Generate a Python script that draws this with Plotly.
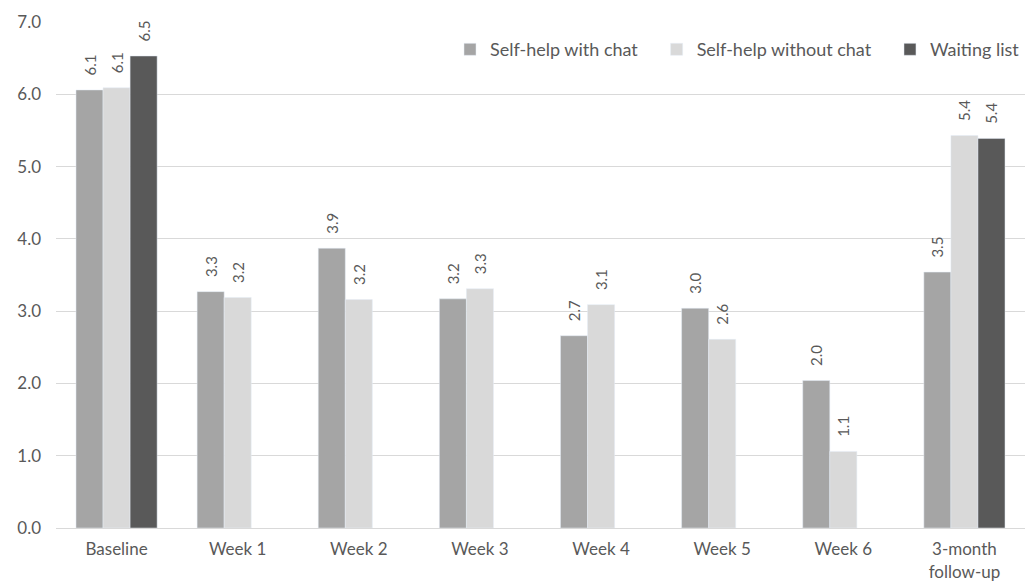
import plotly.graph_objects as go

categories = ["Baseline", "Week 1", "Week 2", "Week 3", "Week 4", "Week 5", "Week 6", "3-month<br>follow-up"]
with_chat = [6.06, 3.27, 3.87, 3.17, 2.66, 3.04, 2.04, 3.54]
without_chat = [6.09, 3.19, 3.16, 3.31, 3.09, 2.61, 1.06, 5.43]
waiting_list = [6.53, None, None, None, None, None, None, 5.39]
y_ticks = [0, 1, 2, 3, 4, 5, 6, 7]

series = [
    ("Self-help with chat", with_chat, "#a5a5a5"),
    ("Self-help without chat", without_chat, "#d9d9d9"),
    ("Waiting list", waiting_list, "#595959"),
]

fig = go.Figure()
for i, (name, vals, col) in enumerate(series):
    legend_name = name + ("\u00a0" * 3 if i < len(series) - 1 else "")
    fig.add_trace(go.Bar(
        x=categories, y=vals, name=legend_name, marker_color=col,
        texttemplate="\u00a0\u00a0\u00a0%{y:.1f}", textposition="outside", textangle=-90,
        constraintext="none",
        textfont=dict(size=15, color="#595959"), cliponaxis=False,
    ))

fig.update_layout(
    width=1028, height=585,
    margin=dict(l=56, r=3, t=22, b=57),
    paper_bgcolor="white", plot_bgcolor="white",
    barmode="group", bargap=0.33, bargroupgap=0,
    font=dict(family="Lato, Open Sans, sans-serif", color="#595959", size=18),
    legend=dict(orientation="h", x=1, xanchor="right", y=0.982, yanchor="top",
                font=dict(size=18, color="#595959"), bgcolor="rgba(0,0,0,0)",
                itemwidth=30, traceorder="normal"),
    yaxis=dict(range=[0, 7], tickvals=y_ticks, tickformat=".1f",
               gridcolor="#d9d9d9", gridwidth=1, zeroline=False,
               showline=False, ticks="", ticklabelstandoff=14, automargin=False,
               tickfont=dict(size=17, color="#595959")),
    xaxis=dict(showline=True, linecolor="#d9d9d9", linewidth=1, ticks="",
               ticklabelstandoff=6, automargin=False,
               tickfont=dict(size=17, color="#595959")),
    uniformtext=dict(mode=False),
)

fig.write_html("out.html")
